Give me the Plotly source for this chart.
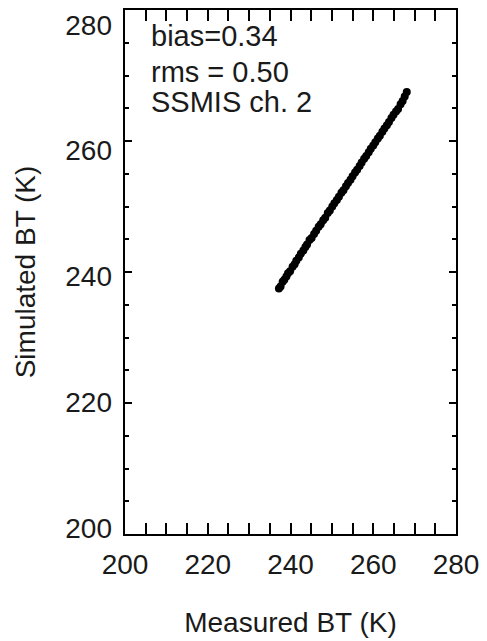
import plotly.graph_objects as go

measured = [237.2, 237.6, 238.1, 238.5, 239.0, 239.4, 239.9, 240.5, 241.0, 241.4,
            242.0, 242.5, 243.1, 243.6, 244.0, 244.6, 245.1, 245.7, 246.2, 246.8,
            247.3, 247.9, 248.4, 249.0, 249.5, 250.1, 250.6, 251.2, 251.7, 252.3,
            252.8, 253.4, 253.9, 254.5, 255.0, 255.6, 256.1, 256.7, 257.2, 257.8,
            258.3, 258.9, 259.4, 260.0, 260.5, 261.1, 261.6, 262.2, 262.7, 263.3,
            263.8, 264.4, 264.9, 265.5, 266.0, 266.6, 267.1, 267.6, 268.1]
simulated = [237.5, 237.8, 238.5, 238.8, 239.3, 239.8, 240.1, 240.8, 241.2, 241.7,
             242.2, 242.8, 243.3, 243.8, 244.2, 244.9, 245.2, 245.8, 246.3, 246.9,
             247.3, 247.9, 248.3, 249.0, 249.4, 250.0, 250.5, 251.0, 251.5, 252.1,
             252.5, 253.1, 253.6, 254.1, 254.6, 255.2, 255.6, 256.2, 256.7, 257.3,
             257.7, 258.3, 258.8, 259.3, 259.8, 260.4, 260.8, 261.4, 261.9, 262.4,
             262.9, 263.5, 264.0, 264.5, 264.9, 265.6, 266.1, 266.8, 267.5]

stats_lines = ["bias=0.34", "rms = 0.50", "SSMIS ch. 2"]
stats_y = [276.0, 270.6, 265.9]
tick_vals = [200, 220, 240, 260, 280]

FONT = "Liberation Sans, Arial, Helvetica, sans-serif"
TXT = "#1a1a1a"

fig = go.Figure()
fig.add_trace(go.Scatter(
    x=measured, y=simulated, mode="markers",
    marker=dict(color="black", size=8, line=dict(width=0)),
    showlegend=False, hoverinfo="skip",
))
# same points on the label axis (invisible), so the label axis is drawn
fig.add_trace(go.Scatter(
    x=measured, y=simulated, mode="markers", yaxis="y2",
    marker=dict(color="black", size=8, opacity=0),
    showlegend=False, hoverinfo="skip",
))

fig.update_layout(
    xaxis=dict(
        range=[200, 280], showgrid=False, zeroline=False,
        showline=True, linecolor="black", linewidth=1.5, mirror="allticks",
        ticks="inside", ticklen=11, tickcolor="black", tickwidth=1.5,
        tickvals=tick_vals, ticklabelstandoff=5,
        tickfont=dict(family=FONT, size=28, color=TXT),
        minor=dict(ticks="inside", dtick=5, ticklen=6, tickcolor="black", tickwidth=1.5),
        title=dict(text="Measured BT (K)", font=dict(family=FONT, size=28, color=TXT), standoff=33),
    ),
    yaxis=dict(
        range=[200, 280], showgrid=False, zeroline=False,
        showline=True, linecolor="black", linewidth=1.5, mirror="allticks",
        ticks="inside", ticklen=7, tickcolor="black", tickwidth=1.5,
        tickvals=tick_vals, showticklabels=False,
        minor=dict(ticks="inside", dtick=5, ticklen=4, tickcolor="black", tickwidth=1.5),
    ),
    yaxis2=dict(
        overlaying="y", side="left", anchor="x",
        range=[199.06, 282.36], showgrid=False, zeroline=False, showline=False,
        ticks="", tickvals=tick_vals, ticklabelstandoff=12,
        tickfont=dict(family=FONT, size=28, color=TXT),
        title=dict(text="Simulated BT (K)", font=dict(family=FONT, size=28, color=TXT), standoff=21),
    ),
    width=487, height=641,
    margin=dict(l=125, r=28, t=8, b=103),
    plot_bgcolor="white", paper_bgcolor="white",
)

for txt, yv in zip(stats_lines, stats_y):
    fig.add_annotation(x=205.7, y=yv, xref="x", yref="y", text=txt, showarrow=False,
                       xanchor="left", yanchor="middle",
                       font=dict(family=FONT, size=29, color=TXT))

fig.write_html("out.html")
